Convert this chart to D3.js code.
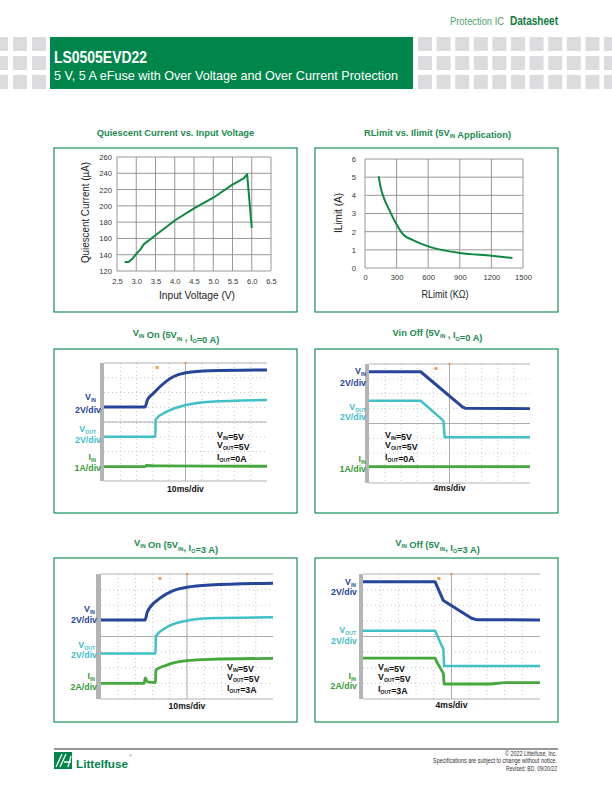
<!DOCTYPE html>
<html><head><meta charset="utf-8">
<script src="https://cdn.jsdelivr.net/npm/d3@7"></script>
<style>body{margin:0;background:#fff}svg{display:block}</style>
</head><body>
<script>
// ---------- DATA ----------
const qcVoltage = [2.7, 2.8, 2.9, 3.0, 3.1, 3.2, 3.5, 4.0, 4.5, 5.0, 5.5, 5.8, 5.88, 6.0];
const qcCurrent = [131, 131, 135, 141, 146, 153, 164, 182, 197, 210, 226, 234, 239, 173];
const qcXTicks = [2.5, 3.0, 3.5, 4.0, 4.5, 5.0, 5.5, 6.0, 6.5];
const qcYTicks = [120, 140, 160, 180, 200, 220, 240, 260];

const rlResistance = [130, 150, 180, 230, 300, 370, 450, 600, 750, 900, 1200, 1400];
const rlCurrent = [5.05, 4.4, 3.85, 3.2, 2.4, 1.8, 1.55, 1.19, 0.97, 0.83, 0.67, 0.55];
const rlXTicks = [0, 300, 600, 900, 1200, 1500];
const rlYTicks = [0, 1, 2, 3, 4, 5, 6];

// scope traces: [time (div), level (div from centre)]
const vinOn0 = [[0,1.02],[2.52,1.02],[2.66,1.49],[3.03,1.94],[3.43,2.39],[4.25,3.07],[5.03,3.34],[6.5,3.48],[10,3.53]];
const voutOn0 = [[0,-1.0],[3.15,-1.0],[3.17,0.18],[3.85,0.7],[5.03,1.15],[6.5,1.38],[10,1.49]];
const iinOn0 = [[0,-3.03],[2.5,-3.03],[2.6,-2.95],[3.2,-2.98],[10,-3.0]];

const vinOff0 = [[0,3.48],[3.21,3.48],[5.8,1.12],[6.0,1.02],[10,1.0]];
const voutOff0 = [[0,1.53],[3.21,1.53],[4.62,0.19],[4.7,-0.93],[10,-0.93]];
const iinOff0 = [[0,-2.9],[10,-2.9]];

const vinOn3 = [[0,1.06],[2.56,1.06],[2.7,1.59],[3.43,2.45],[4.2,2.94],[4.98,3.15],[6.34,3.3],[10,3.41]];
const voutOn3 = [[0,-1.08],[3.17,-1.08],[3.19,0.03],[3.82,0.59],[4.98,1.01],[6.34,1.17],[10,1.23]];
const iinOn3 = [[0,-3.0],[2.5,-3.0],[2.58,-2.65],[2.7,-2.9],[3.17,-2.95],[3.19,-2.15],[3.82,-1.83],[4.98,-1.55],[6.34,-1.46],[10,-1.4]];

const vinOff3 = [[0,3.51],[4.07,3.51],[4.54,2.3],[6.13,1.17],[6.4,1.08],[10,1.06]];
const voutOff3 = [[0,0.37],[4.07,0.37],[4.54,-0.82],[4.58,-1.89],[10,-1.89]];
const iinOff3 = [[0,-1.38],[4.07,-1.38],[4.2,-1.7],[4.54,-2.36],[4.58,-3.04],[7.2,-3.04],[8,-2.95],[10,-2.95]];

const triggerMarks = [3.25, 4.16, 3.43, 4.29];

// ---------- SETUP ----------
const svg = d3.select("body").append("svg").attr("width", 612).attr("height", 792);
const GREEN = "#00864a", TGREEN = "#1a8a4f";
const NARROW = "'Liberation Sans Narrow','Arial Narrow','Liberation Sans',Arial,sans-serif";
const SANS = "'Liberation Sans',Arial,sans-serif";
const BLUE = "#27459b", CYAN = "#41c0c8", LGREEN = "#45a83c";

function rich(sel, parts, size) {
  parts.forEach(p => {
    if (p[1]) {
      sel.append("tspan").attr("font-size", size * 0.58).attr("dy", size * 0.25).text(p[0]);
      sel.append("tspan").attr("font-size", size).attr("dy", -size * 0.25).text("");
    } else sel.append("tspan").text(p[0]);
  });
  return sel;
}

// ---------- HEADER ----------
svg.append("text").attr("x", 450).attr("y", 25)
  .attr("font-family", NARROW).attr("font-size", 11.5).attr("fill", "#4fa46f")
  .attr("textLength", 54).attr("lengthAdjust", "spacingAndGlyphs").text("Protection IC");
svg.append("text").attr("x", 510).attr("y", 25)
  .attr("font-family", NARROW).attr("font-size", 12).attr("font-weight", "bold").attr("fill", "#117a40")
  .attr("textLength", 48).attr("lengthAdjust", "spacingAndGlyphs").text("Datasheet");

const rows = [37, 56, 75];
const leftCols = [-6, 13, 32];
const rightCols = d3.range(0, 11).map(i => 418 + i * 18.6);
rows.forEach(y => {
  leftCols.concat(rightCols).forEach(x => {
    svg.append("rect").attr("x", x).attr("y", y).attr("width", 14).attr("height", 14).attr("fill", "#dcdcde");
  });
});
svg.append("rect").attr("x", 50).attr("y", 37).attr("width", 363).attr("height", 52).attr("fill", GREEN);
svg.append("text").attr("x", 54).attr("y", 63).attr("fill", "#fff").attr("font-family", NARROW)
  .attr("font-weight", "bold").attr("font-size", 17).attr("textLength", 93).attr("lengthAdjust", "spacingAndGlyphs")
  .text("LS0505EVD22");
svg.append("text").attr("x", 54).attr("y", 80).attr("fill", "#fff").attr("font-family", NARROW)
  .attr("font-size", 13).attr("textLength", 344).attr("lengthAdjust", "spacingAndGlyphs")
  .text("5 V, 5 A  eFuse with Over Voltage and Over Current Protection");

// ---------- BOXES & TITLES ----------
const boxes = [[54,148],[315,148],[54,349],[315,349],[54,558],[315,558]];
boxes.forEach(b => svg.append("rect").attr("x", b[0]).attr("y", b[1]).attr("width", 243).attr("height", 164)
  .attr("fill", "none").attr("stroke", GREEN).attr("stroke-width", 1.1));

const titles = [
  [175.5, 136, [["Quiescent Current vs. Input Voltage"]]],
  [437.5, 136, [["RLimit vs. Ilimit (5V"],["IN",1],[" Application)"]]],
  [176, 336, [["V"],["IN",1],[" On (5V"],["IN",1],[" , I"],["O",1],["=0 A)"]]],
  [437.5, 336, [["Vin Off (5V"],["IN",1],[" , I"],["O",1],["=0 A)"]]],
  [176, 546, [["V"],["IN",1],["  On (5V"],["IN",1],[", I"],["O",1],["=3 A)"]]],
  [437.5, 546, [["V"],["IN",1],["  Off (5V"],["IN",1],[", I"],["O",1],["=3 A)"]]]
];
titles.forEach(t => {
  const el = svg.append("text").attr("x", t[0]).attr("y", t[1]).attr("text-anchor", "middle")
    .attr("font-family", SANS).attr("font-weight", "bold").attr("font-size", 9.3).attr("fill", TGREEN);
  rich(el, t[2], 9.3);
});

// ---------- XY CHARTS ----------
function xyChart(o) {
  const g = svg.append("g");
  const x = d3.scaleLinear().domain(o.xd).range([o.x0, o.x1]);
  const y = d3.scaleLinear().domain(o.yd).range([o.y1, o.y0]);
  g.selectAll(".gx").data(o.xt).join("line").attr("x1", d => x(d)).attr("x2", d => x(d))
    .attr("y1", o.y0).attr("y2", o.y1).attr("stroke", "#8c8c8c").attr("stroke-width", 0.9);
  g.selectAll(".gy").data(o.yt).join("line").attr("y1", d => y(d)).attr("y2", d => y(d))
    .attr("x1", o.x0).attr("x2", o.x1).attr("stroke", "#8c8c8c").attr("stroke-width", 0.9);
  const ax = g.append("g").attr("transform", `translate(0,${o.y1})`)
    .call(d3.axisBottom(x).tickValues(o.xt).tickSize(0).tickPadding(o.xpad).tickFormat(o.xf));
  const ay = g.append("g").attr("transform", `translate(${o.x0},0)`)
    .call(d3.axisLeft(y).tickValues(o.yt).tickSize(0).tickPadding(o.ypad).tickFormat(d3.format("d")));
  [ax, ay].forEach(a => {
    a.select(".domain").remove();
    a.selectAll("text").attr("font-family", SANS).attr("font-size", 7.6).attr("fill", "#333");
  });
  g.append("path").datum(o.xs.map((v, i) => [v, o.ys[i]]))
    .attr("d", d3.line().x(d => x(d[0])).y(d => y(d[1])).curve(o.curve))
    .attr("fill", "none").attr("stroke", "#0d8a40").attr("stroke-width", 2).attr("stroke-linejoin", "round");
  g.append("text").attr("x", o.xtx).attr("y", o.xty).attr("text-anchor", "middle")
    .attr("font-family", SANS).attr("font-size", 10).attr("fill", "#222")
    .attr("textLength", o.xtl).attr("lengthAdjust", "spacingAndGlyphs").text(o.xtitle);
  g.append("text").attr("transform", `translate(${o.ytx},${o.yty}) rotate(-90)`).attr("text-anchor", "middle")
    .attr("font-family", SANS).attr("font-size", 10).attr("fill", "#222")
    .attr("textLength", o.ytl).attr("lengthAdjust", "spacingAndGlyphs").text(o.ytitle);
}

xyChart({xd:[2.5,6.5], yd:[120,260], x0:117, x1:271, y0:157, y1:271, xt:qcXTicks, yt:qcYTicks,
  xf:d3.format(".1f"), xpad:8, ypad:5, xs:qcVoltage, ys:qcCurrent, curve:d3.curveLinear,
  xtitle:"Input Voltage (V)", xtx:197, xty:299, xtl:76,
  ytitle:"Quiescent Current (\u00b5A)", ytx:89, yty:212.5, ytl:101});

xyChart({xd:[0,1500], yd:[0,6], x0:365, x1:523, y0:159, y1:268, xt:rlXTicks, yt:rlYTicks,
  xf:d3.format("d"), xpad:7, ypad:9, xs:rlResistance, ys:rlCurrent, curve:d3.curveMonotoneX,
  xtitle:"RLimit (K\u03a9)", xtx:445, xty:298, xtl:47,
  ytitle:"ILimit (A)", ytx:342, yty:213, ytl:40});

// ---------- SCOPE SHOTS ----------
function scope(o) {
  const g = svg.append("g");
  const x = d3.scaleLinear().domain([0, 10]).range([o.x0, o.x1]);
  const y = d3.scaleLinear().domain([-4, 4]).range([o.y1, o.y0]);
  g.append("rect").attr("x", o.x0 - o.strip).attr("y", o.y0).attr("width", o.strip).attr("height", o.y1 - o.y0).attr("fill", "#b4b4b4");
  g.selectAll(".vx").data(d3.range(1, 10)).join("line").attr("x1", d => x(d)).attr("x2", d => x(d))
    .attr("y1", o.y0).attr("y2", o.y1).attr("stroke", "#b8b8b8").attr("stroke-width", 0.8).attr("stroke-dasharray", "1,3");
  g.selectAll(".hy").data(d3.range(-3, 4)).join("line").attr("y1", d => y(d)).attr("y2", d => y(d))
    .attr("x1", o.x0).attr("x2", o.x1).attr("stroke", "#b8b8b8").attr("stroke-width", 0.8).attr("stroke-dasharray", "1,3");
  g.append("line").attr("x1", x(5)).attr("x2", x(5)).attr("y1", o.y0).attr("y2", o.y1).attr("stroke", "#9a9a9a").attr("stroke-width", 0.8);
  g.append("line").attr("y1", y(0)).attr("y2", y(0)).attr("x1", o.x0).attr("x2", o.x1).attr("stroke", "#9a9a9a").attr("stroke-width", 0.8);
  g.append("line").attr("y1", o.y0).attr("y2", o.y0).attr("x1", o.x0).attr("x2", o.x1).attr("stroke", "#a0a0a0").attr("stroke-width", 0.8);
  g.append("line").attr("y1", o.y1).attr("y2", o.y1).attr("x1", o.x0).attr("x2", o.x1).attr("stroke", "#a0a0a0").attr("stroke-width", 0.8);
  // trigger marks
  g.append("rect").attr("x", x(o.trig) - 1.5).attr("y", o.y0 + 3).attr("width", 3).attr("height", 3).attr("fill", "#f0a050");
  g.append("rect").attr("x", x(5) - 1).attr("y", o.y0 - 1).attr("width", 2).attr("height", 2).attr("fill", "#f08a3a");
  const line = d3.line().x(d => x(d[0])).y(d => y(d[1])).curve(o.curve);
  [[o.iin, LGREEN, 2.8], [o.vout, CYAN, 2.5], [o.vin, BLUE, 3]].forEach(t => {
    g.append("path").datum(t[0]).attr("d", line).attr("fill", "none").attr("stroke", t[1])
      .attr("stroke-width", t[2]).attr("stroke-linejoin", "round");
  });
  // channel labels
  const lab = (yy, parts, col, ax) => {
    const el = g.append("text").attr("x", ax).attr("y", yy).attr("text-anchor", "end")
      .attr("font-family", SANS).attr("font-weight", "bold").attr("font-size", 8.8).attr("fill", col);
    rich(el, parts, 8.8);
  };
  const L = o.labels;
  lab(L[0], [["V"],["IN",1]], BLUE, o.lx1);
  lab(L[1], [["2V/div"]], BLUE, o.lx2);
  lab(L[2], [["V"],["OUT",1]], CYAN, o.lx1);
  lab(L[3], [["2V/div"]], CYAN, o.lx2);
  lab(L[4], [["I"],["IN",1]], "#3a9a3a", o.lx1);
  lab(L[5], [[o.idiv]], "#3a9a3a", o.lx2);
  // annotation
  const ann = [[["V"],["IN",1],["=5V"]], [["V"],["OUT",1],["=5V"]], [["I"],["OUT",1],["=" + o.iout]]];
  ann.forEach((a, i) => {
    const el = g.append("text").attr("x", o.ax).attr("y", o.ay[i]).attr("font-family", SANS)
      .attr("font-weight", "bold").attr("font-size", 8.8).attr("fill", "#111");
    rich(el, a, 8.8);
  });
  g.append("text").attr("x", x(5)).attr("y", o.ty).attr("text-anchor", "middle").attr("font-family", SANS)
    .attr("font-weight", "bold").attr("font-size", 8.6).attr("fill", "#111").text(o.tdiv);
}

scope({x0:104, x1:267, y0:363, y1:481, strip:4, vin:vinOn0, vout:voutOn0, iin:iinOn0, curve:d3.curveMonotoneX,
  trig:triggerMarks[0], labels:[400,413,432,443,460,471], lx1:96, lx2:101, idiv:"1A/div",
  ax:217, ay:[438,448,460], iout:"0A", ty:492, tdiv:"10ms/div"});
scope({x0:369, x1:530, y0:364, y1:483, strip:4, vin:vinOff0, vout:voutOff0, iin:iinOff0, curve:d3.curveLinear,
  trig:triggerMarks[1], labels:[374,386,410,420,462,472], lx1:366, lx2:366, idiv:"1A/div",
  ax:385, ay:[438,448,460], iout:"0A", ty:491, tdiv:"4ms/div"});
scope({x0:101, x1:273, y0:574, y1:699, strip:5, vin:vinOn3, vout:voutOn3, iin:iinOn3, curve:d3.curveMonotoneX,
  trig:triggerMarks[2], labels:[612,623,648,658,679,690], lx1:95, lx2:97, idiv:"2A/div",
  ax:227, ay:[670,680,691], iout:"3A", ty:709, tdiv:"10ms/div"});
scope({x0:363, x1:540, y0:574, y1:699, strip:4, vin:vinOff3, vout:voutOff3, iin:iinOff3, curve:d3.curveLinear,
  trig:triggerMarks[3], labels:[585,595,633,644,679,689], lx1:356, lx2:357, idiv:"2A/div",
  ax:378, ay:[670,680,692], iout:"3A", ty:708, tdiv:"4ms/div"});

// ---------- FOOTER ----------
svg.append("line").attr("x1", 54).attr("x2", 558).attr("y1", 749).attr("y2", 749).attr("stroke", "#333").attr("stroke-width", 1);
const logo = svg.append("g");
logo.append("rect").attr("x", 54).attr("y", 752).attr("width", 18).attr("height", 17).attr("fill", GREEN);
logo.append("path").attr("d", "M56,767 L62,754 M60,767 L66,754 M64,762 L71,762 M68,767 L71,756")
  .attr("stroke", "#fff").attr("stroke-width", 1.3).attr("fill", "none");
const lfText = logo.append("text").attr("x", 76).attr("y", 768).attr("font-family", NARROW).attr("font-weight", "bold")
  .attr("font-size", 14).attr("fill", GREEN).text("Littelfuse");
const lfW0 = lfText.node().getComputedTextLength() || 52;
lfText.attr("font-size", 14 * 52 / lfW0);
const lfW = lfText.node().getComputedTextLength() || 52;
logo.append("text").attr("x", 76 + lfW + 1).attr("y", 757).attr("font-family", SANS).attr("font-size", 4).attr("fill", GREEN).text("\u00ae");
const foot = [["\u00a9 2022 Littelfuse, Inc.", 755.5, 52], ["Specifications are subject to change without notice.", 763, 124], ["Revised: BD. 09/20/22", 770.5, 51]];
foot.forEach(f => svg.append("text").attr("x", 557 - f[2]).attr("y", f[1]).attr("font-family", NARROW)
  .attr("font-size", 6.6).attr("fill", "#333").attr("textLength", f[2]).attr("lengthAdjust", "spacingAndGlyphs").text(f[0]));
</script>
</body></html>
